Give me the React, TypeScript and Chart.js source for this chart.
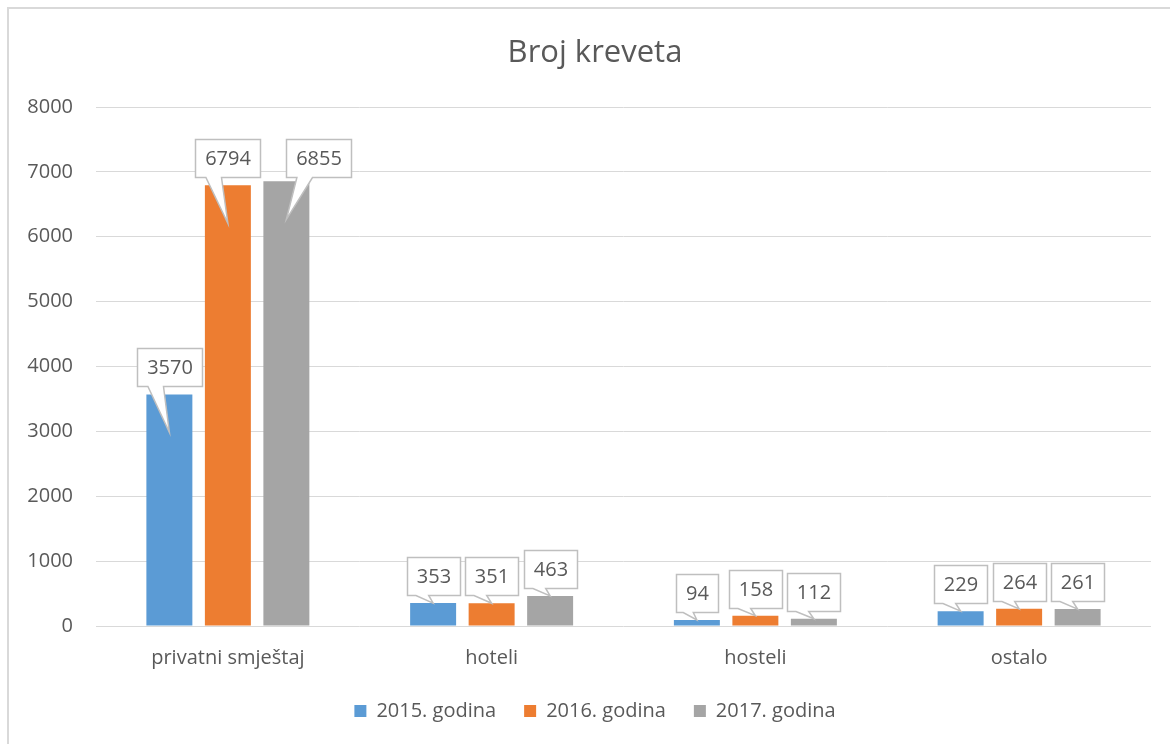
import React, { useEffect, useRef } from "react";
import { Chart, registerables } from "chart.js";

Chart.register(...registerables);

const categories = ["privatni smještaj", "hoteli", "hosteli", "ostalo"];
const seriesNames = ["2015. godina", "2016. godina", "2017. godina"];
const values2015 = [3570, 353, 94, 229];
const values2016 = [6794, 351, 158, 264];
const values2017 = [6855, 463, 112, 261];
const yTicks = [0, 1000, 2000, 3000, 4000, 5000, 6000, 7000, 8000];

const FONT = '"Open Sans", "Noto Sans", sans-serif';
const TEXT = "#595959";

const calloutPlugin = {
  id: "callouts",
  afterDatasetsDraw(chart: any, _args: any, opts: any) {
    const ctx = chart.ctx;
    ctx.save();
    ctx.font = `20px ${FONT}`;
    chart.data.datasets.forEach((ds: any, di: number) => {
      const meta = chart.getDatasetMeta(di);
      meta.data.forEach((bar: any, i: number) => {
        const text = String(ds.data[i]);
        const tw = ctx.measureText(text).width;
        const w = Math.round(tw + 19);
        const h = 38;
        const off = (opts.offsets || []).find((o: any) => o.d === di && o.i === i) || { dx: 0, dy: 0 };
        const barH = bar.base - bar.y;
        const tipY = bar.y + (barH > 100 ? 38 : 0);
        const bx = Math.round(bar.x - w / 2 + off.dx) + 0.5;
        const by = Math.round(bar.y - 8 - h + off.dy) + 0.5;
        const b1 = bx + w * 0.16;
        const b2 = bx + w * 0.4;
        ctx.beginPath();
        ctx.moveTo(bx, by);
        ctx.lineTo(bx + w, by);
        ctx.lineTo(bx + w, by + h);
        ctx.lineTo(b2, by + h);
        ctx.lineTo(bar.x, tipY);
        ctx.lineTo(b1, by + h);
        ctx.lineTo(bx, by + h);
        ctx.closePath();
        ctx.fillStyle = "#ffffff";
        ctx.fill();
        ctx.strokeStyle = "#bfbfbf";
        ctx.lineWidth = 1.5;
        ctx.stroke();
        ctx.fillStyle = TEXT;
        ctx.textAlign = "center";
        ctx.textBaseline = "middle";
        ctx.fillText(text, bx + w / 2, by + h / 2 + 1);
      });
    });
    ctx.restore();
  },
};

export default function App() {
  const ref = useRef<HTMLCanvasElement | null>(null);
  useEffect(() => {
    if (!ref.current) return;
    const chart = new Chart(ref.current, {
      type: "bar",
      data: {
        labels: categories,
        datasets: [
          { label: seriesNames[0], data: values2015, backgroundColor: "#5b9bd5" },
          { label: seriesNames[1], data: values2016, backgroundColor: "#ed7d31" },
          { label: seriesNames[2], data: values2017, backgroundColor: "#a5a5a5" },
        ],
      },
      plugins: [calloutPlugin],
      options: {
        responsive: false,
        animation: false,
        datasets: { bar: { categoryPercentage: 0.6654, barPercentage: 0.786 } },
        layout: { padding: { left: 0, right: 0, top: 0, bottom: 13 } },
        plugins: {
          tooltip: { enabled: false },
          title: {
            display: true,
            text: "Broj kreveta",
            color: TEXT,
            font: { family: FONT, size: 31, weight: "normal" },
            padding: { top: 25.4, bottom: 35.4 },
          },
          legend: {
            position: "bottom",
            labels: {
              boxWidth: 12,
              boxHeight: 12,
              padding: 28,
              color: TEXT,
              font: { family: FONT, size: 20 },
            },
          },
          callouts: { offsets: [{ d: 2, i: 0, dx: 32, dy: 4 }] },
        } as any,
        scales: {
          x: {
            grid: { display: false },
            border: { display: false },
            ticks: { color: TEXT, font: { family: FONT, size: 20 }, padding: 12 },
            afterFit(scale: any) {
              scale.height = 47;
            },
          },
          y: {
            min: 0,
            max: 8000,
            grid: { color: "#d9d9d9", lineWidth: 1, drawTicks: false },
            border: { display: false },
            afterBuildTicks(scale: any) {
              scale.ticks = yTicks.map((v) => ({ value: v }));
            },
            ticks: {
              color: TEXT,
              font: { family: FONT, size: 20 },
              padding: 23,
              callback: (v: any) => String(v),
            },
            afterFit(scale: any) {
              scale.width = 87;
            },
          },
          yRight: {
            position: "right",
            display: true,
            grid: { display: false, drawTicks: false },
            border: { display: false },
            ticks: { display: false },
            afterFit(scale: any) {
              scale.width = 30;
            },
          },
        },
      } as any,
    });
    return () => chart.destroy();
  }, []);
  return (
    <div
      style={{
        position: "absolute",
        left: 7,
        top: 7,
        width: 1161,
        height: 735,
        borderLeft: "2px solid #d9d9d9",
        borderTop: "2px solid #d9d9d9",
        overflow: "hidden",
        background: "#fff",
      }}
    >
      <canvas ref={ref} width={1172} height={735} style={{ display: "block" }} />
    </div>
  );
}
